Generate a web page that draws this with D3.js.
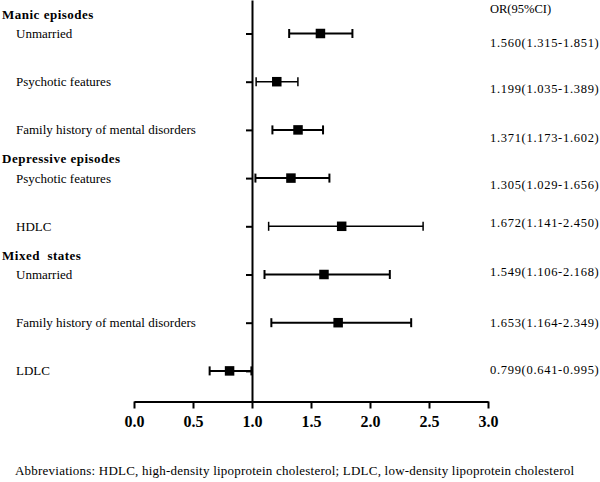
<!DOCTYPE html>
<html>
<head>
<meta charset="utf-8">
<script src="https://cdn.jsdelivr.net/npm/d3@7"></script>
<style>
  body { margin: 0; background: #fff; }
  text { font-family: "Liberation Serif", "Times New Roman", serif; fill: #000; }
</style>
</head>
<body>
<svg id="chart" width="600" height="482"></svg>
<script>
// forest plot data
var groups = ['Manic episodes', 'Depressive episodes', 'Mixed  states'];
var groupStart = [0, 3, 5];   // row index where each group begins
var rowLabels = ['Unmarried', 'Psychotic features', 'Family history of mental disorders',
  'Psychotic features', 'HDLC',
  'Unmarried', 'Family history of mental disorders', 'LDLC'];
// square positions as drawn in the figure
var plotted = [1.58, 1.21, 1.39, 1.33, 1.76, 1.61, 1.73, 0.81];
var ciLow = [1.315, 1.035, 1.173, 1.029, 1.141, 1.106, 1.164, 0.641];
var ciHigh = [1.851, 1.389, 1.602, 1.656, 2.450, 2.168, 2.349, 0.995];
var orText = ['1.560(1.315-1.851)', '1.199(1.035-1.389)', '1.371(1.173-1.602)', '1.305(1.029-1.656)',
  '1.672(1.141-2.450)', '1.549(1.106-2.168)', '1.653(1.164-2.349)', '0.799(0.641-0.995)'];
var xTicks = [0, 0.5, 1, 1.5, 2, 2.5, 3];

// vertical nudge of the OR text relative to its row (as laid out in the original)
var textNudge = [9.5, 7.5, 8, 7, -3, -2, 0, -1];
// a couple of CI lines are drawn a bit thinner in the original
var lineW = [2, 1.5, 2, 2, 1.5, 2, 2, 2];

var svg = d3.select('#chart');

var xScale = d3.scaleLinear().domain([0, 3]).range([134, 488]);
var yScale = d3.scaleLinear().domain([-0.695, 7.635]).range([0, 401.5]);

var rows = plotted.map(function(d, i) {
  return { i: i, or: d, lo: ciLow[i], hi: ciHigh[i], label: rowLabels[i], txt: orText[i] };
});

// x axis
var xAxis = d3.axisBottom(xScale)
  .tickValues(xTicks)
  .tickFormat(d3.format('.1f'))
  .tickSize(7)
  .tickSizeOuter(0)
  .tickPadding(7);

var gx = svg.append('g')
  .attr('transform', 'translate(0,401.5)')
  .call(xAxis);
gx.select('.domain').attr('stroke-width', 2);
gx.selectAll('.tick line').attr('stroke-width', 2);
gx.selectAll('.tick text')
  .style('font-size', '16px')
  .style('font-weight', 'bold')
  .style('font-family', '"Liberation Serif", "Times New Roman", serif');

// reference line at OR = 1 with row ticks
var yAxis = d3.axisLeft(yScale)
  .tickValues(d3.range(rowLabels.length))
  .tickFormat('')
  .tickSize(6)
  .tickSizeOuter(0);

var gy = svg.append('g')
  .attr('transform', 'translate(' + xScale(1) + ',0)')
  .call(yAxis);
gy.select('.domain').attr('stroke-width', 2);
gy.selectAll('.tick line').attr('stroke-width', 2);

// CI lines
svg.selectAll('.ci')
  .data(rows)
  .enter()
  .append('line')
  .attr('class', 'ci')
  .attr('x1', function(d) { return xScale(d.lo); })
  .attr('x2', function(d) { return xScale(d.hi); })
  .attr('y1', function(d) { return yScale(d.i); })
  .attr('y2', function(d) { return yScale(d.i); })
  .attr('stroke', '#000')
  .attr('stroke-width', function(d) { return lineW[d.i]; });

// whisker caps
['lo', 'hi'].forEach(function(k) {
  svg.selectAll('.cap-' + k)
    .data(rows)
    .enter()
    .append('line')
    .attr('class', 'cap-' + k)
    .attr('x1', function(d) { return xScale(d[k]); })
    .attr('x2', function(d) { return xScale(d[k]); })
    .attr('y1', function(d) { return yScale(d.i) - 4.5; })
    .attr('y2', function(d) { return yScale(d.i) + 4.5; })
    .attr('stroke', '#000')
    .attr('stroke-width', function(d) { return lineW[d.i]; });
});

// point estimates
var sq = 9.5;
svg.selectAll('.pt')
  .data(rows)
  .enter()
  .append('rect')
  .attr('class', 'pt')
  .attr('x', function(d) { return xScale(d.or) - sq / 2; })
  .attr('y', function(d) { return yScale(d.i) - sq / 2; })
  .attr('width', sq)
  .attr('height', sq)
  .attr('fill', '#000');

// group headers
svg.selectAll('.grp')
  .data(groups)
  .enter()
  .append('text')
  .attr('class', 'grp')
  .attr('x', 2)
  .attr('y', function(d, i) { return yScale(groupStart[i] - 0.4); })
  .attr('dominant-baseline', 'central')
  .style('font-size', '13px')
  .style('font-weight', 'bold')
  .style('letter-spacing', '0.5px')
  .style('white-space', 'pre')
  .text(function(d) { return d; });

// row labels
svg.selectAll('.lbl')
  .data(rows)
  .enter()
  .append('text')
  .attr('class', 'lbl')
  .attr('x', 16)
  .attr('y', function(d) { return yScale(d.i); })
  .attr('dominant-baseline', 'central')
  .style('font-size', '13px')
  .text(function(d) { return d.label; });

// OR (95%CI) column
svg.append('text')
  .attr('x', 490)
  .attr('y', 9)
  .attr('dominant-baseline', 'central')
  .style('font-size', '12.5px')
  .text('OR(95%CI)');

svg.selectAll('.ortxt')
  .data(rows)
  .enter()
  .append('text')
  .attr('class', 'ortxt')
  .attr('x', 490)
  .attr('y', function(d) { return yScale(d.i) + textNudge[d.i]; })
  .attr('dominant-baseline', 'central')
  .style('font-size', '12.5px')
  .style('letter-spacing', '0.7px')
  .text(function(d) { return d.txt; });

// footnote
svg.append('text')
  .attr('x', 15)
  .attr('y', 470)
  .attr('dominant-baseline', 'central')
  .style('font-size', '13px')
  .style('letter-spacing', '0.22px')
  .text('Abbreviations: HDLC, high-density lipoprotein cholesterol; LDLC, low-density lipoprotein cholesterol');
</script>
</body>
</html>
